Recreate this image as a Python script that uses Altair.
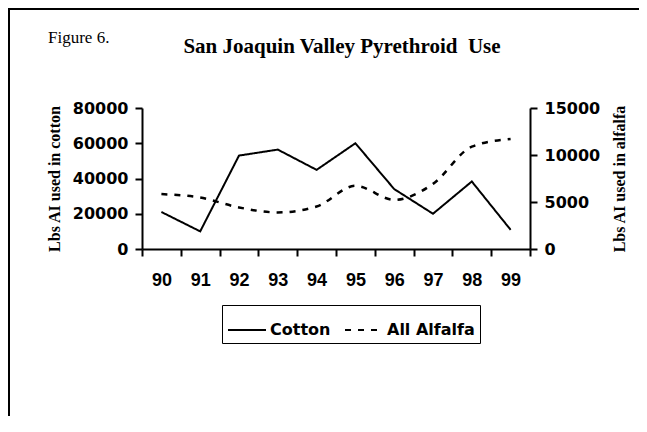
import altair as alt
import pandas as pd

years = [90, 91, 92, 93, 94, 95, 96, 97, 98, 99]
cotton = [21000, 10000, 53000, 56400, 44900, 60000, 34000, 20000, 38300, 10900]
alfalfa = [5840, 5480, 4420, 3890, 4520, 6720, 5230, 6930, 10890, 11710]
series_names = ["Cotton", "All Alfalfa"]
x_tick_values = [89.5, 90.5, 91.5, 92.5, 93.5, 94.5, 95.5, 96.5, 97.5, 98.5, 99.5]
left_ticks = [0, 20000, 40000, 60000, 80000]
right_ticks = [0, 5000, 10000, 15000]

df = pd.DataFrame({
    "year": years * 2,
    "value": cotton + alfalfa,
    "series": [series_names[0]] * len(years) + [series_names[1]] * len(years),
})

W, H = 388, 141
PAD_L, PAD_T = 134, 100
PAD_R = 631 - PAD_L - W
PAD_B = 408 - PAD_T - H

axis_common = dict(
    grid=False, domainColor="black", domainWidth=2, tickColor="black", tickWidth=2,
    labelColor="black", titleColor="black",
)

dash_scale = alt.Scale(domain=series_names, range=[[1, 0], [6, 7]])
legend = alt.Legend(
    orient="none", legendX=80, legendY=197, direction="horizontal", title=None,
    symbolType="stroke", symbolSize=1444, symbolStrokeWidth=2, symbolStrokeColor="black",
    labelFont="DejaVu Sans", labelFontSize=16, labelFontWeight="bold", labelColor="black",
    strokeColor="black", padding=5, columnPadding=10, labelOffset=3,
)

x_enc = alt.X(
    "year:Q",
    scale=alt.Scale(domain=[89.5, 99.5], nice=False, zero=False),
    axis=alt.Axis(
        values=x_tick_values, title=None, tickSize=7,
        labelExpr="datum.value < 99 ? format(datum.value + 0.5, 'd') : ''",
        labelOffset=19.4, labelPadding=15, labelFont="Liberation Sans", labelFontSize=18,
        labelFontWeight="bold", labelOverlap=False, labelFlush=False, labelBound=False,
        **axis_common,
    ),
)

base = alt.Chart(df)

cot = base.transform_filter(alt.datum.series == series_names[0]).mark_line(
    color="black", strokeWidth=2
).encode(
    x=x_enc,
    y=alt.Y(
        "value:Q", scale=alt.Scale(domain=[0, 80000], nice=False),
        axis=alt.Axis(
            orient="left", values=left_ticks, format="d", title="Lbs AI used in cotton",
            tickSize=7, labelPadding=7, labelFont="DejaVu Sans", labelFontSize=16,
            labelFontWeight="bold", titleFont="Liberation Serif", titleFontSize=16,
            titleFontWeight="bold", titleAngle=270, titleX=-88, titleY=H / 2,
            titleAlign="center", titleBaseline="middle", **axis_common,
        ),
    ),
    strokeDash=alt.StrokeDash("series:N", scale=dash_scale, legend=legend),
)

alf = base.transform_filter(alt.datum.series == series_names[1]).mark_line(
    color="black", strokeWidth=2.5, interpolate="monotone"
).encode(
    x=x_enc,
    y=alt.Y(
        "value:Q", scale=alt.Scale(domain=[0, 15000], nice=False),
        axis=alt.Axis(
            orient="right", values=right_ticks, format="d", title="Lbs AI used in alfalfa",
            tickSize=7, labelPadding=7, labelFont="DejaVu Sans", labelFontSize=16,
            labelFontWeight="bold", titleFont="Liberation Serif", titleFontSize=16,
            titleFontWeight="bold", titleAngle=270, titleX=89, titleY=H / 2,
            titleAlign="center", titleBaseline="middle", **axis_common,
        ),
    ),
    strokeDash=alt.StrokeDash("series:N", scale=dash_scale, legend=legend),
)

one = alt.Data(values=[{"a": 1}])
border_top = alt.Chart(one).mark_rule(color="black", strokeWidth=2).encode(
    x=alt.value(-133), x2=alt.value(W + PAD_R), y=alt.value(-99)
)
border_left = alt.Chart(one).mark_rule(color="black", strokeWidth=2).encode(
    x=alt.value(-133), y=alt.value(-100), y2=alt.value(H + PAD_B)
)
fig_label = alt.Chart(one).mark_text(
    text="Figure 6.", font="Liberation Serif", fontSize=17, align="left",
    baseline="alphabetic", color="black"
).encode(x=alt.value(-94), y=alt.value(-65))
title_text = alt.Chart(one).mark_text(
    text="San Joaquin Valley Pyrethroid\u00a0 Use", font="Liberation Serif", fontSize=21,
    fontWeight="bold", align="center", baseline="alphabetic", color="black"
).encode(x=alt.value(200), y=alt.value(-55))

chart = alt.layer(border_top, border_left, fig_label, title_text, cot, alf).resolve_scale(
    y="independent"
).properties(
    width=W, height=H,
    autosize=alt.AutoSizeParams(type="none"),
    padding={"left": PAD_L, "top": PAD_T, "right": PAD_R, "bottom": PAD_B},
).configure_view(strokeWidth=0)

chart.save("out.html", embed_options={"renderer": "svg", "actions": False})
